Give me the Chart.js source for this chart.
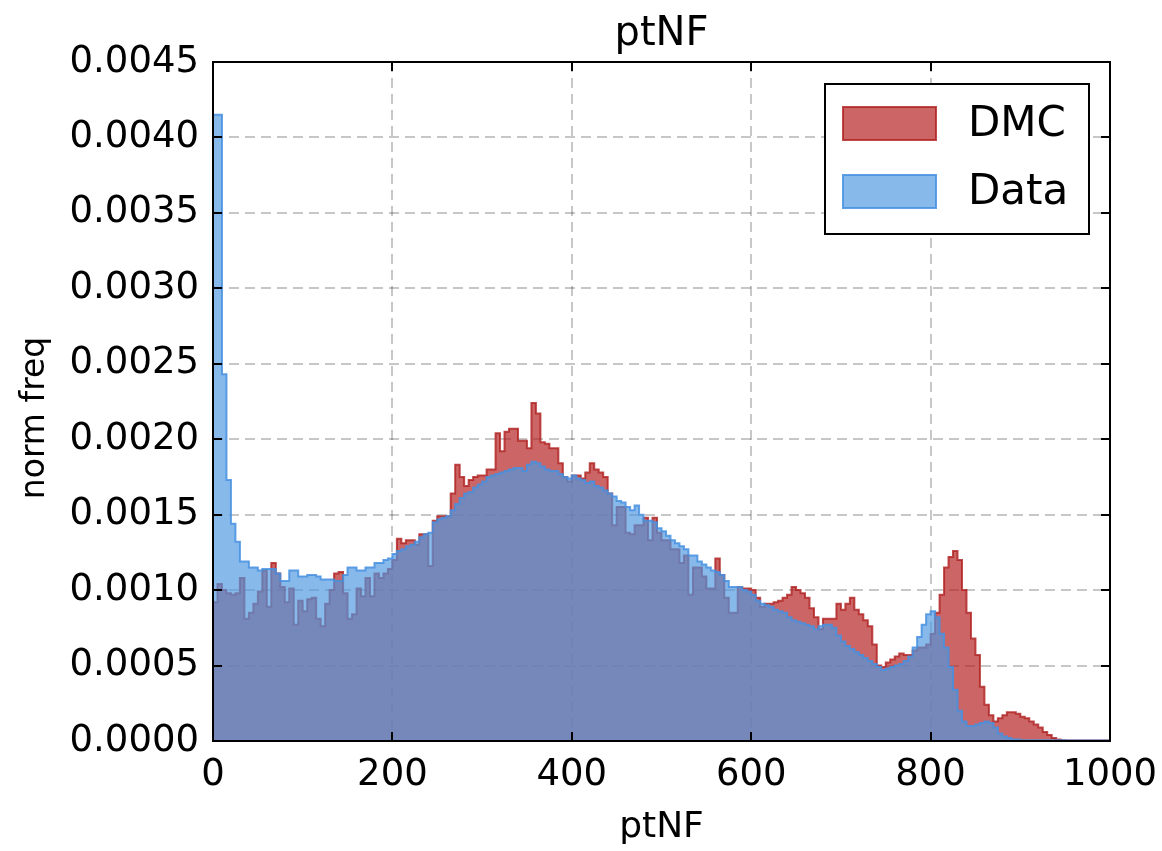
<!DOCTYPE html>
<html>
<head>
<meta charset="utf-8">
<script src="https://cdn.jsdelivr.net/npm/chart.js@4.4.1/dist/chart.umd.min.js"></script>
<style>
  html, body { margin: 0; padding: 0; background: #fff; }
  #wrap { width: 1162px; height: 851px; }
</style>
</head>
<body>
<div id="wrap"><canvas id="histChart" width="1162" height="851"></canvas></div>
<script>
// histogram bins: 200 bins of width 5 from 0 to 1000
const binStart = 0;
const binWidth = 5;
const seriesNames = ["DMC", "Data"];
const yLabel = "norm freq";

const dmcFreq = [
  0.00092, 0.00104, 0.00100, 0.00098, 0.00097, 0.00098, 0.00108, 0.00081, 0.00085, 0.00091,
  0.00099, 0.00113, 0.00089, 0.00118, 0.00111, 0.00102, 0.00092, 0.00101, 0.00077, 0.00093,
  0.00086, 0.00094, 0.00095, 0.00081, 0.00076, 0.00091, 0.00100, 0.00111, 0.00112, 0.00098,
  0.00081, 0.00084, 0.00101, 0.00096, 0.00108, 0.00096, 0.00111, 0.00108, 0.00111, 0.00114,
  0.00120, 0.00134, 0.00131, 0.00133, 0.00133, 0.00130, 0.00137, 0.00137, 0.00116, 0.00146,
  0.00149, 0.00149, 0.00149, 0.00164, 0.00183, 0.00175, 0.00169, 0.00173, 0.00175, 0.00176,
  0.00176, 0.00180, 0.00180, 0.00204, 0.00192, 0.00205, 0.00207, 0.00207, 0.00199, 0.00199,
  0.00194, 0.00224, 0.00217, 0.00198, 0.00197, 0.00194, 0.00194, 0.00184, 0.00175, 0.00172,
  0.00176, 0.00176, 0.00174, 0.00178, 0.00184, 0.00180, 0.00178, 0.00175, 0.00164, 0.00143,
  0.00155, 0.00155, 0.00138, 0.00137, 0.00143, 0.00143, 0.00148, 0.00133, 0.00148, 0.00138,
  0.00133, 0.00133, 0.00127, 0.00127, 0.00118, 0.00123, 0.00097, 0.00115, 0.00115, 0.00109,
  0.00101, 0.00101, 0.00121, 0.00110, 0.00095, 0.00085, 0.00085, 0.00102, 0.00101, 0.00101,
  0.00100, 0.00095, 0.00089, 0.00091, 0.00091, 0.00092, 0.00093, 0.00095, 0.00097, 0.00102,
  0.00100, 0.00098, 0.00095, 0.00088, 0.00082, 0.00074, 0.00081, 0.00081, 0.00081, 0.00091,
  0.00087, 0.00091, 0.00095, 0.00087, 0.00084, 0.00080, 0.00076, 0.00064, 0.00050, 0.00049,
  0.00052, 0.00054, 0.00056, 0.00058, 0.00057, 0.00057, 0.00060, 0.00062, 0.00062, 0.00064,
  0.00071, 0.00085, 0.00097, 0.00115, 0.00122, 0.00126, 0.00120, 0.00100, 0.00085, 0.00068,
  0.00057, 0.00036, 0.00024, 0.00017, 0.00013, 0.00015, 0.00017, 0.00019, 0.00019, 0.00018,
  0.00016, 0.00015, 0.00013, 0.00011, 0.00009, 0.00006, 0.00004, 0.00002, 0.00001, 0.000005,
  0.000003, 0.000003, 0.000003, 0.000003, 0.000003, 0.000003, 0.000003, 0.000003, 0.000003, 0.000003
];

const dataFreq = [
  0.00415, 0.00415, 0.00243, 0.00173, 0.00144, 0.00132, 0.00119, 0.00119, 0.00115, 0.00115,
  0.00113, 0.00114, 0.00114, 0.00114, 0.00111, 0.00106, 0.00106, 0.00113, 0.00113, 0.00109,
  0.00109, 0.00110, 0.00110, 0.00109, 0.00107, 0.00107, 0.00107, 0.00106, 0.00106, 0.00110,
  0.00115, 0.00115, 0.00113, 0.00113, 0.00115, 0.00115, 0.00118, 0.00118, 0.00120, 0.00121,
  0.00124, 0.00126, 0.00127, 0.00129, 0.00130, 0.00132, 0.00135, 0.00137, 0.00138, 0.00145,
  0.00147, 0.00148, 0.00149, 0.00153, 0.00157, 0.00161, 0.00164, 0.00165, 0.00168, 0.00170,
  0.00172, 0.00175, 0.00176, 0.00177, 0.00178, 0.00179, 0.00180, 0.00181, 0.00181, 0.00179,
  0.00183, 0.00185, 0.00184, 0.00182, 0.00180, 0.00179, 0.00179, 0.00177, 0.00175, 0.00174,
  0.00176, 0.00174, 0.00173, 0.00171, 0.00172, 0.00169, 0.00168, 0.00166, 0.00164, 0.00162,
  0.00159, 0.00158, 0.00155, 0.00153, 0.00156, 0.00150, 0.00146, 0.00146, 0.00145, 0.00141,
  0.00139, 0.00136, 0.00133, 0.00131, 0.00129, 0.00127, 0.00123, 0.00123, 0.00119, 0.00117,
  0.00115, 0.00113, 0.00112, 0.00110, 0.00106, 0.00102, 0.00102, 0.00102, 0.00100, 0.00099,
  0.00097, 0.00093, 0.00091, 0.00090, 0.00089, 0.00087, 0.00086, 0.00085, 0.00082, 0.00080,
  0.00079, 0.00078, 0.00077, 0.00076, 0.00074, 0.00076, 0.00077, 0.00077, 0.00075, 0.00070,
  0.00066, 0.00063, 0.00061, 0.00059, 0.00057, 0.00055, 0.00053, 0.00051, 0.00049, 0.00047,
  0.00048, 0.00049, 0.00050, 0.00051, 0.00053, 0.00056, 0.00062, 0.00069, 0.00077, 0.00084,
  0.00086, 0.00082, 0.00071, 0.00062, 0.00049, 0.00034, 0.00020, 0.00013, 0.00010, 0.00010,
  0.00011, 0.00012, 0.00013, 0.00012, 0.00009, 0.00005, 0.00003, 0.00002, 0.00001, 0.00001,
  0.000005, 0.000005, 0.000005, 0.000005, 0.000005, 0.000005, 0.000005, 0.000005, 0.000005, 0.000005,
  0.000003, 0.000003, 0.000003, 0.000003, 0.000003, 0.000003, 0.000003, 0.000003, 0.000003, 0.000003
];

const fontFamily = "'DejaVu Sans', 'Liberation Sans', sans-serif";

// turn bin heights into an outline for a stepped line
function stepPoints(freq) {
  let pts = [{ x: binStart, y: 0 }];
  freq.forEach((v, i) => pts.push({ x: binStart + i * binWidth, y: v }));
  let end = binStart + freq.length * binWidth;
  pts.push({ x: end, y: freq[freq.length - 1] });
  pts.push({ x: end, y: 0 });
  return pts;
}

// frame, inward ticks, y label and the boxed legend
const frameAndLegend = {
  id: "frameAndLegend",
  afterDraw(chart) {
    const { ctx, chartArea: a, scales } = chart;
    ctx.save();
    ctx.strokeStyle = "#000";
    ctx.lineWidth = 2;
    ctx.beginPath();
    scales.x.ticks.forEach((t) => {
      let px = Math.round(scales.x.getPixelForValue(t.value));
      ctx.moveTo(px, a.bottom); ctx.lineTo(px, a.bottom - 9);
      ctx.moveTo(px, a.top); ctx.lineTo(px, a.top + 9);
    });
    scales.y.ticks.forEach((t) => {
      let py = Math.round(scales.y.getPixelForValue(t.value));
      ctx.moveTo(a.left, py); ctx.lineTo(a.left + 9, py);
      ctx.moveTo(a.right, py); ctx.lineTo(a.right - 9, py);
    });
    ctx.stroke();
    ctx.strokeRect(a.left, a.top, a.right - a.left, a.bottom - a.top);

    // y axis label
    ctx.save();
    ctx.translate(35, 418);
    ctx.rotate(-Math.PI / 2);
    ctx.fillStyle = "#000";
    ctx.font = "33px " + fontFamily;
    ctx.textAlign = "center";
    ctx.textBaseline = "middle";
    ctx.fillText(yLabel, 0, 0);
    ctx.restore();

    // legend box
    let bx = a.right - 285, by = a.top + 22, bw = 264, bh = 150;
    ctx.fillStyle = "#fff";
    ctx.fillRect(bx, by, bw, bh);
    ctx.strokeRect(bx, by, bw, bh);
    chart.data.datasets.forEach((ds, i) => {
      let ry = by + 23 + i * 68;
      ctx.fillStyle = ds.backgroundColor;
      ctx.fillRect(bx + 18, ry, 93, 33);
      ctx.strokeStyle = ds.borderColor;
      ctx.strokeRect(bx + 18, ry, 93, 33);
      ctx.fillStyle = "#000";
      ctx.font = "42px " + fontFamily;
      ctx.textBaseline = "middle";
      ctx.textAlign = "left";
      ctx.fillText(ds.label, bx + 143, ry + 18);
    });
    ctx.restore();
  },
};

const gridStyle = { color: "rgba(0,0,0,0.22)", lineWidth: 2, drawTicks: false };

new Chart(document.getElementById("histChart").getContext("2d"), {
  type: "line",
  data: {
    datasets: [
      {
        label: seriesNames[0],
        data: stepPoints(dmcFreq),
        stepped: true,
        fill: "origin",
        backgroundColor: "rgba(180,30,30,0.68)",
        borderColor: "rgba(175,30,30,0.8)",
        borderWidth: 2,
        pointRadius: 0,
        order: 1,
      },
      {
        label: seriesNames[1],
        data: stepPoints(dataFreq),
        stepped: true,
        fill: "origin",
        backgroundColor: "rgba(78,152,225,0.68)",
        borderColor: "rgba(70,145,225,0.85)",
        borderWidth: 2,
        pointRadius: 0,
        order: 0,
      },
    ],
  },
  options: {
    responsive: false,
    animation: false,
    devicePixelRatio: 1,
    layout: { padding: { left: 0, right: 52, top: 0, bottom: 0 } },
    plugins: {
      legend: { display: false },
      tooltip: { enabled: false },
      title: {
        display: true,
        text: "ptNF",
        fullSize: false,
        color: "#000",
        font: { family: fontFamily, size: 40, weight: "normal", lineHeight: 1 },
        padding: { top: 15, bottom: 7 },
      },
    },
    scales: {
      x: {
        type: "linear",
        min: 0,
        max: 1000,
        z: 1,
        grid: gridStyle,
        border: { display: false, dash: [10, 6] },
        ticks: {
          stepSize: 200,
          color: "#000",
          padding: 12,
          maxRotation: 0,
          font: { family: fontFamily, size: 37 },
          callback: (v) => String(v),
        },
        title: {
          display: true,
          text: "ptNF",
          color: "#000",
          font: { family: fontFamily, size: 36 },
          padding: { top: 0, bottom: 2 },
        },
        afterFit: (s) => {
          s.height = 110;
          s.paddingLeft = 0;
          s.paddingRight = 0;
        },
      },
      y: {
        type: "linear",
        min: 0,
        max: 0.0045,
        z: 1,
        grid: gridStyle,
        border: { display: false, dash: [10, 6] },
        ticks: {
          stepSize: 0.0005,
          color: "#000",
          padding: 14,
          font: { family: fontFamily, size: 37 },
          callback: (v) => v.toFixed(4),
        },
        afterFit: (s) => { s.width = 213; },
      },
    },
  },
  plugins: [frameAndLegend],
});
</script>
</body>
</html>
